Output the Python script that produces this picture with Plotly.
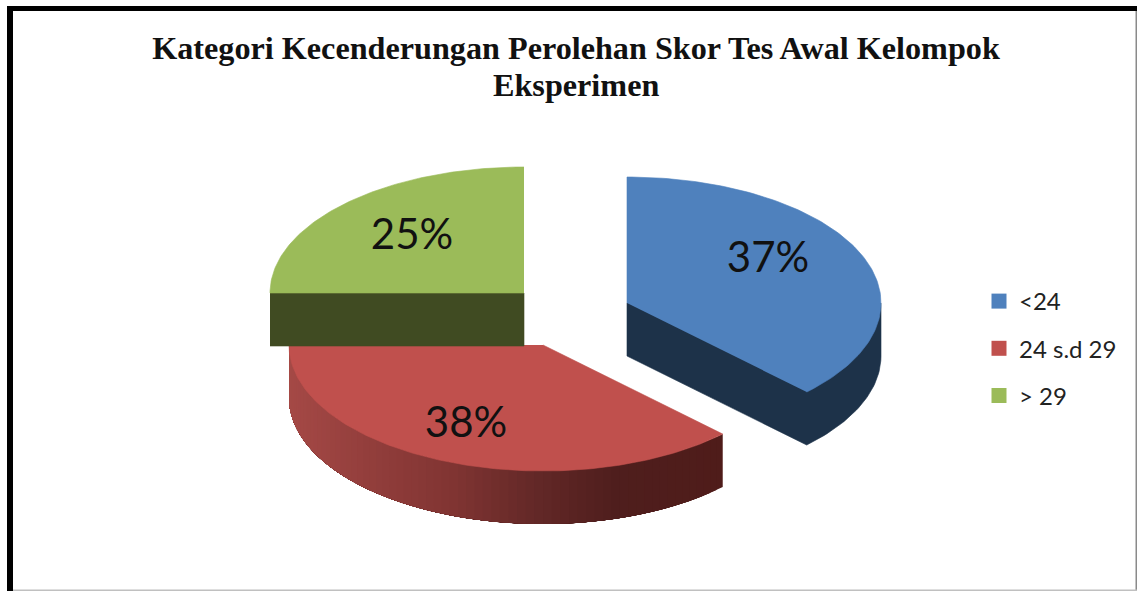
import numpy as np
import plotly.graph_objects as go

# ---- data ----
categories = ["<24", "24 s.d 29", "> 29"]
values = [37.49, 37.51, 25.0]
title_line_1 = "Kategori Kecenderungan Perolehan Skor Tes Awal Kelompok"
title_line_2 = "Eksperimen"

# ---- style / layout ----
W, H = 1137, 591
top_colors = ["#4f81bd", "#c0504d", "#9bbb59"]
side_colors = ["#1d3249", "#4e1c1a", "#404b22"]
apex = [(627, 303), (543, 345), (524, 293)]
label_pos = [(768, 261.5), (466, 426.5), (412, 238.5)]
RX, RY, DEPTH = 254, 126, 53
rim_stops = [(0.0, (165, 73, 70)), (0.21, (145, 61, 59)), (0.39, (128, 52, 50)),
             (0.58, (99, 40, 39)), (0.76, (79, 30, 29)), (1.0, (79, 28, 26))]

fig = go.Figure()


def ell(cx, cy, deg):
    t = np.radians(np.asarray(deg, dtype=float))
    return cx + RX * np.sin(t), cy - RY * np.cos(t)


def poly(xs, ys, color, lw=0.6):
    fig.add_trace(go.Scatter(x=list(xs), y=list(ys), mode="lines", fill="toself", fillcolor=color,
                             line=dict(width=lw, color=color), hoverinfo="skip", showlegend=False))


def rim_color(f):
    for (a, ca), (b, cb) in zip(rim_stops, rim_stops[1:]):
        if f <= b:
            k = (f - a) / (b - a)
            c = [round(ca[i] + (cb[i] - ca[i]) * k) for i in range(3)]
            return f"rgb({c[0]},{c[1]},{c[2]})"
    return "rgb(79,28,26)"


edges = np.concatenate([[0], np.cumsum(values)]) * 3.6
start = edges[:-1]
end = edges[1:]

# blue: one extruded outline for the side faces, then top
cx, cy = apex[0]
ax, ay = ell(cx, cy, np.linspace(90, end[0], 40))
poly(np.r_[cx, cx, ax[::-1], ax[0]],
     np.r_[cy, cy + DEPTH, ay[::-1] + DEPTH, ay[0]], side_colors[0])
ax, ay = ell(cx, cy, np.linspace(start[0], end[0], 120))
poly(np.r_[cx, ax], np.r_[cy, ay], top_colors[0])

# red: shaded rim, painted as overlapping shrinking bands so no seams show, then top
cx, cy = apex[1]
left_x = cx - RX
tip_x = ell(cx, cy, start[1])[0]
for a in np.linspace(start[1], end[1], 70)[:-1]:
    ax, ay = ell(cx, cy, np.linspace(a, end[1], 60))
    f = (float(ax[0]) - left_x) / (tip_x - left_x)
    poly(np.r_[ax, ax[::-1]], np.r_[ay, ay[::-1] + DEPTH], rim_color(f), lw=0)
ax, ay = ell(cx, cy, np.linspace(start[1], end[1], 160))
poly(np.r_[cx, ax], np.r_[cy, ay], top_colors[1])

# green: cut face, then top
cx, cy = apex[2]
lx, ly = ell(cx, cy, start[2])
poly([lx, cx, cx, lx], [ly, cy, cy + DEPTH, ly + DEPTH], side_colors[2])
ax, ay = ell(cx, cy, np.linspace(start[2], end[2], 100))
poly(np.r_[cx, ax], np.r_[cy, ay], top_colors[2])

# percentage labels
fig.add_trace(go.Scatter(x=[p[0] for p in label_pos], y=[p[1] for p in label_pos], mode="text",
                         text=[f"{round(v)}%" for v in values], textposition="middle center",
                         textfont=dict(family="Lato", size=42, color="#111111"),
                         hoverinfo="skip", showlegend=False))

# legend entries
for name, color in zip(categories, top_colors):
    fig.add_trace(go.Scatter(x=[None], y=[None], mode="markers", name=name, legendgroup=name,
                             marker=dict(symbol="square", size=15, color=color)))

frame = [
    (7, 6, W, 11, "#000000"),
    (7, 6, 13, H, "#000000"),
    (1135.5, 11, 1137, H, "#8a8a8a"),
    (13, 589.5, W, 591, "#c0c0c0"),
]
shapes = [dict(type="rect", xref="x", yref="y", x0=a, y0=b, x1=c, y1=d, fillcolor=col,
               line=dict(width=0), layer="below") for a, b, c, d, col in frame]

title_font = dict(family="Liberation Serif", size=32.2, color="#111111", weight="bold")
fig.update_layout(
    width=W, height=H, autosize=False,
    margin=dict(l=0, r=0, t=0, b=0),
    paper_bgcolor="white", plot_bgcolor="white",
    xaxis=dict(range=[0, W], visible=False, fixedrange=True),
    yaxis=dict(range=[H, 0], visible=False, fixedrange=True),
    shapes=shapes,
    title=dict(text=title_line_1, x=576 / W, xanchor="center", y=1 - 48 / H, yanchor="middle",
               font=title_font),
    annotations=[dict(text=title_line_2, x=576, y=84.5, xref="x", yref="y", xanchor="center",
                      yanchor="middle", showarrow=False, font=title_font)],
    legend=dict(x=979 / W, y=1 - 279 / H, xanchor="left", yanchor="top", bgcolor="rgba(0,0,0,0)",
                font=dict(family="Lato", size=24, color="#222222"),
                traceorder="grouped", tracegroupgap=13, itemwidth=30),
)
fig.write_html("out.html", config=dict(displayModeBar=False),
               post_script="document.body.style.margin='0';document.body.style.overflow='hidden';")
